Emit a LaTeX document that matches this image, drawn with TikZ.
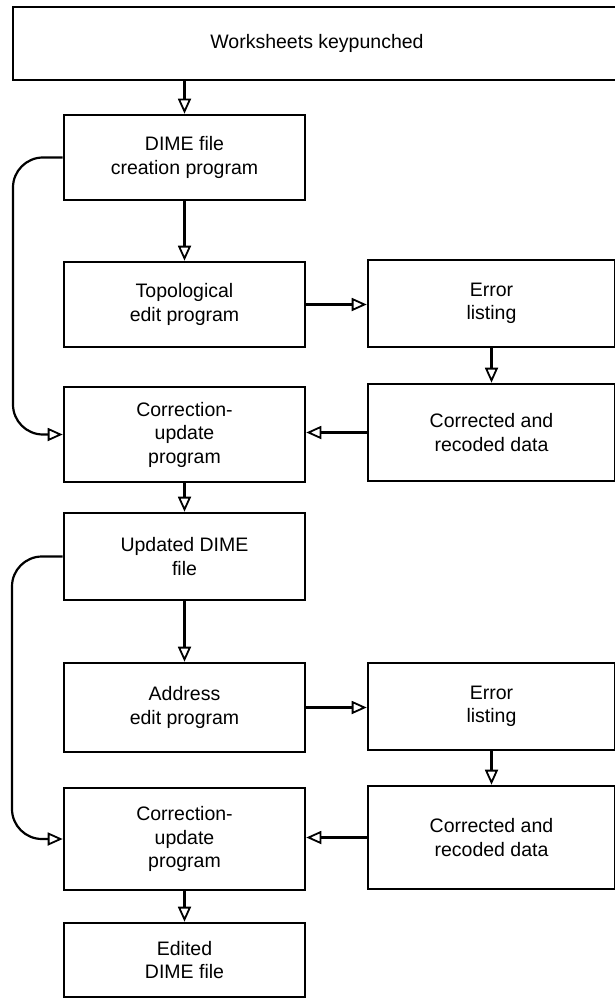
\documentclass[tikz,border=0pt]{standalone}
\usepackage{fontspec}
\setmainfont{Liberation Sans}
\usetikzlibrary{arrows.meta}
\begin{document}
\begin{tikzpicture}[x=1pt,y=-1pt,
  box/.style={draw, line width=2.6pt, align=center, inner sep=0pt,
    font=\fontsize{19.5}{23.5}\selectfont},
  leftbox/.style={box, minimum width=241pt},
  rightbox/.style={box, minimum width=247pt},
  flow/.style={line width=2.2pt,
    -{Triangle[open,length=15pt,width=13pt,line width=1.8pt]}},
  loop/.style={flow, rounded corners=30pt},
]
\fill[white] (0,0) rectangle (614,1008);
\useasboundingbox (0,0) rectangle (614,1008);

% input stage
\node[box, minimum width=608pt, minimum height=73pt] (keypunch) at (317,43.5) {Worksheets keypunched};

% left column: programs and files
\node[leftbox, minimum height=85pt]  (dime)   at (184.5,157.5) {DIME file\\creation program};
\node[leftbox, minimum height=85pt]  (topo)   at (184.5,304.5) {Topological\\edit program};
\node[leftbox, minimum height=95pt]  (corrA)  at (184.5,434.5) {Correction-\\update\\program};
\node[leftbox, minimum height=87pt]  (upd)    at (184.5,556.5) {Updated DIME\\file};
\node[leftbox, minimum height=89pt]  (addr)   at (184.5,707.5) {Address\\edit program};
\node[leftbox, minimum height=102pt] (corrB)  at (184.5,839)   {Correction-\\update\\program};
\node[leftbox, minimum height=74pt]  (edited) at (184.5,960)   {Edited\\DIME file};

% right column: error listings and corrections
\node[rightbox, minimum height=87pt]  (errA) at (491.5,303.5) {Error\\listing};
\node[rightbox, minimum height=97pt]  (fixA) at (491.5,432.5) {Corrected and\\recoded data};
\node[rightbox, minimum height=87pt]  (errB) at (491.5,706.5) {Error\\listing};
\node[rightbox, minimum height=103pt] (fixB) at (491.5,837.5) {Corrected and\\recoded data};

% main flow
\draw[flow] (dime.north |- keypunch.south) -- (dime.north);
\draw[flow] (dime) -- (topo);
\draw[flow] (topo.east) -- (topo.east -| errA.west);
\draw[flow] (errA) -- (fixA);
\draw[flow] (fixA.west) -- (fixA.west -| corrA.east);
\draw[flow] (corrA) -- (upd);
\draw[flow] (upd) -- (addr);
\draw[flow] (addr.east) -- (addr.east -| errB.west);
\draw[flow] (errB) -- (fixB);
\draw[flow] (fixB.west) -- (fixB.west -| corrB.east);
\draw[flow] (corrB) -- (edited);

% bypass loops on the left
\coordinate (loopA) at (13,300);
\coordinate (loopB) at (12,700);
\draw[loop] (dime.west) -| (loopA) |- (corrA.west);
\draw[loop] (upd.west) -| (loopB) |- (corrB.west);
\end{tikzpicture}
\end{document}
